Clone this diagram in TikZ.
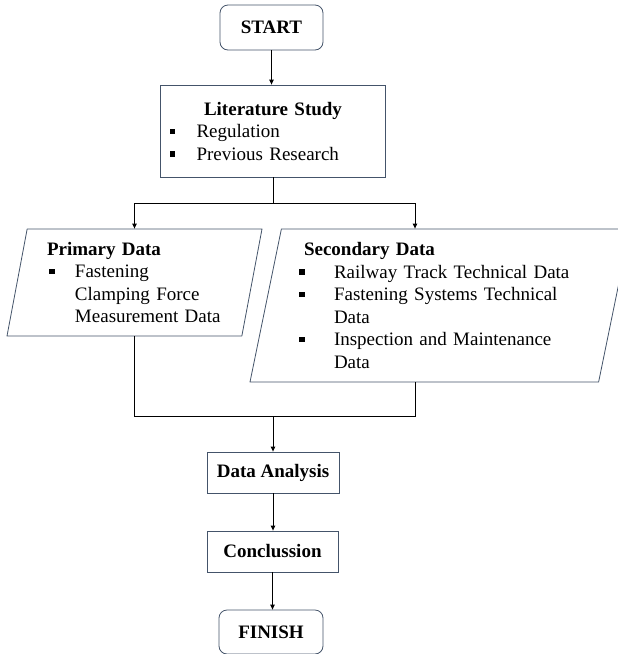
\documentclass[tikz,border=0pt]{standalone}
\usepackage{fontspec}
\setmainfont{Liberation Serif}
\usetikzlibrary{arrows.meta,positioning,shapes.geometric,calc}

\definecolor{boxedge}{RGB}{68,84,106}
\newcommand{\sqbul}[1]{\makebox[#1][l]{\rule[3.5pt]{5.5pt}{5.5pt}}}

\tikzset{
  flowbox/.style={draw=boxedge, line width=0.8pt, fill=white, inner sep=0pt, align=center},
  termbox/.style={flowbox, rounded corners=8pt},
  databox/.style={flowbox, trapezium, trapezium left angle=76, trapezium right angle=104,
    trapezium stretches body},
  link/.style={line width=1pt, -{Triangle[length=5pt,width=4.5pt]}},
  joint/.style={line width=1pt},
}

\begin{document}
\begin{tikzpicture}[x=1pt, y=-1pt, font=\fontsize{19pt}{22.5pt}\selectfont]
	\useasboundingbox (0,0) rectangle (618,654);
	\clip (0,0) rectangle (618,654);
	
	% terminals and process steps
	\node[termbox, minimum width=103pt, minimum height=45pt] (start) at (271.5,27.5) {\textbf{START}};
	\node[flowbox, minimum width=225pt, minimum height=92pt, text width=207pt, align=left] (lit) at (273,131)
	{{\centering\textbf{Literature Study}\par}
		\sqbul{27pt}Regulation\par
		\sqbul{27pt}Previous Research};
	
	% data sources
	\node[databox, minimum width=255pt, minimum height=107pt, text width=175pt, align=left] (prim) at (134.5,282.5)
	{\textbf{Primary Data}\par
		\hspace*{2pt}\sqbul{26pt}Fastening\par
		\hspace*{28pt}Clamping Force\par
		\hspace*{28pt}Measurement Data};
	\node[databox, minimum width=380pt, minimum height=153pt, text width=282pt, align=left] (sec) at (440,305.5)
	{\hspace*{5pt}\textbf{Secondary Data}\par
		\sqbul{35pt}Railway Track Technical Data\par
		\sqbul{35pt}Fastening Systems Technical\par
		\hspace*{35pt}Data\par
		\sqbul{35pt}Inspection and Maintenance\par
		\hspace*{35pt}Data};
	
	\node[flowbox, minimum width=132pt, minimum height=41pt] (ana) at (273,472.5) {\textbf{Data Analysis}};
	\node[flowbox, minimum width=131pt, minimum height=41pt] (con) at (272.5,551.5) {\textbf{Conclussion}};
	\node[termbox, minimum width=104pt, minimum height=44pt] (fin) at (271,632) {\textbf{FINISH}};
	
	% split and merge points
	\coordinate (fork) at (273,203);
	\coordinate (join) at (273,416);
	
	\draw[link] (start.south) -- (start.south |- lit.north);
	\draw[joint] (lit.south) -- (fork);
	\draw[link] (fork) -| (prim.north -| prim.center);
	\draw[link] (fork) -| ($(sec.north -| sec.center)+(-25,0)$);
	\draw[joint] (prim.south -| prim.center) |- (join);
	\draw[joint] ($(sec.south -| sec.center)+(-25,0)$) |- (join);
	\draw[link] (join) -- (join |- ana.north);
	\draw[link] (ana.south) -- (ana.south |- con.north);
	\draw[link] (con.south) -- (con.south |- fin.north);
\end{tikzpicture}
\end{document}
